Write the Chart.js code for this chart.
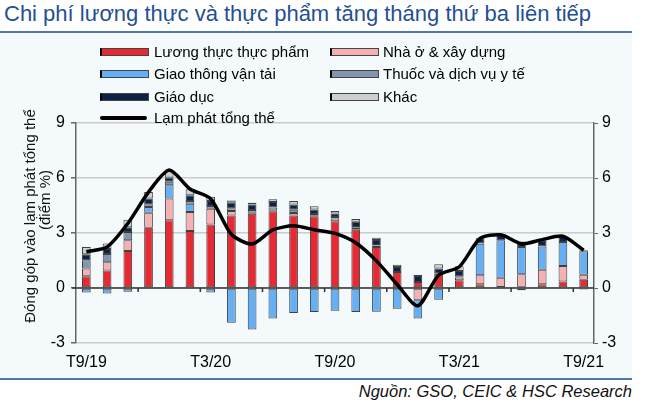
<!DOCTYPE html>
<html lang="vi">
<head>
<meta charset="utf-8">
<title>Chi phí lương thực và thực phẩm</title>
<script src="https://cdn.jsdelivr.net/npm/chart.js@4.4.1/dist/chart.umd.min.js"></script>
<style>
    html, body { margin: 0; padding: 0; background: #ffffff; }
    body { width: 652px; height: 413px; position: relative; overflow: hidden; font-family: "Liberation Sans", Arial, sans-serif; }
    .tieuDe { position: absolute; left: 4px; top: 0px; font-size: 22px; line-height: 28px; color: #1f4f95; white-space: nowrap; }
    .khung { position: absolute; left: 0; top: 31px; width: 632px; height: 349px; background: #f4fafb; border-top: 2px solid #4f78ad; border-bottom: 2px solid #4f78ad; box-sizing: border-box; }
    .nguon { position: absolute; right: 20px; top: 382px; font-size: 16.5px; font-style: italic; color: #111; white-space: nowrap; }
    #chuGiai { position: absolute; left: 0; top: 0; z-index: 2; }
    .chuGiai { position: absolute; font-size: 15px; color: #000; white-space: nowrap; line-height: 18px; }
    .mau { position: absolute; width: 46px; height: 6px; border: 1px solid #444; border-left: 2px solid #000; }
    .duong { position: absolute; width: 47px; height: 4px; background: #000; border-radius: 2px; }
    canvas { position: absolute; left: 0; top: 0; z-index: 1; }
</style>
</head>
<body>
<div class="tieuDe">Chi phí lương thực và thực phẩm tăng tháng thứ ba liên tiếp</div>
<div class="khung"></div>
<canvas id="bieuDo" width="652" height="413"></canvas>
<div id="chuGiai"></div>
<div class="nguon">Nguồn: GSO, CEIC &amp; HSC Research</div>
<script>
const thang = ["T9/19", "T10/19", "T11/19", "T12/19", "T1/20", "T2/20", "T3/20", "T4/20", "T5/20",
    "T6/20", "T7/20", "T8/20", "T9/20", "T10/20", "T11/20", "T12/20", "T1/21", "T2/21", "T3/21",
    "T4/21", "T5/21", "T6/21", "T7/21", "T8/21", "T9/21"];

const luongThuc = [0.64, 0.96, 2.02, 3.29, 3.70, 3.11, 3.47, 3.95, 4.05, 4.18, 3.96, 3.91, 3.64,
    3.18, 2.24, 0.87, 0.33, 0.78, 0.42, 0.20, 0.05, -0.12, 0.20, 0.36, 0.45];
const nhaO = [0.42, 0.45, 0.58, 0.82, 1.18, 1.04, 0.85, 0.25, 0.05, 0.03, 0.13, 0.03, 0.15,
    0.10, 0.08, 0.00, -0.67, 0.00, 0.15, 0.49, 0.51, 0.75, 0.80, 0.84, 0.27];
const giaoThong = [-0.25, -0.30, -0.20, 0.31, 0.73, 0.45, -0.25, -1.89, -2.27, -1.67, -1.36, -1.31, -1.24,
    -1.31, -1.29, -1.13, -1.00, -0.64, 0.00, 1.73, 2.04, 1.49, 1.27, 1.31, 1.29];
const thuocYTe = [0.45, 0.45, 0.45, 0.15, 0.18, 0.15, 0.15, 0.15, 0.15, 0.18, 0.18, 0.10, 0.08,
    0.05, 0.03, 0.00, 0.00, 0.00, 0.07, 0.02, 0.00, 0.00, 0.00, 0.00, 0.03];
const giaoDuc = [0.33, 0.27, 0.27, 0.31, 0.24, 0.31, 0.27, 0.30, 0.30, 0.30, 0.29, 0.24, 0.20,
    0.28, 0.27, 0.27, 0.33, 0.29, 0.29, 0.27, 0.24, 0.20, 0.29, 0.27, -0.08];
const khac = [0.40, 0.30, 0.40, 0.36, 0.35, 0.33, 0.24, 0.12, 0.10, 0.15, 0.18, 0.18, 0.13,
    0.15, 0.12, 0.13, 0.05, 0.22, 0.25, 0.00, 0.08, 0.10, 0.05, 0.04, 0.05];
const lamPhat = [1.98, 2.24, 3.52, 5.23, 6.43, 5.40, 4.87, 2.93, 2.40, 3.17, 3.39, 3.18, 2.98,
    2.47, 1.48, 0.19, -0.97, 0.70, 1.16, 2.70, 2.90, 2.41, 2.64, 2.82, 2.06];

const mocTruc = [-3, 0, 3, 6, 9];

const nhomCot = [
    { ten: "Lương thực thực phẩm", duLieu: luongThuc, mau: "#e52a33", cot: 0, hang: 0 },
    { ten: "Nhà ở & xây dựng", duLieu: nhaO, mau: "#f5b0b4", cot: 1, hang: 0 },
    { ten: "Giao thông vận tải", duLieu: giaoThong, mau: "#66aff5", cot: 0, hang: 1 },
    { ten: "Thuốc và dịch vụ y tế", duLieu: thuocYTe, mau: "#8295ae", cot: 1, hang: 1 },
    { ten: "Giáo dục", duLieu: giaoDuc, mau: "#0b2348", cot: 0, hang: 2 },
    { ten: "Khác", duLieu: khac, mau: "#cfcfcf", cot: 1, hang: 2 }
];

document.addEventListener("DOMContentLoaded", () => {
    // chu giai hai cot, dung HTML cho de dat vi tri
    const hop = document.getElementById("chuGiai");
    const hangY = [52, 74, 96.5, 118];
    nhomCot.forEach(n => {
        const xMau = n.cot === 0 ? 100 : 330;
        const xChu = n.cot === 0 ? 154 : 383;
        const mau = document.createElement("div");
        mau.className = "mau";
        mau.style.left = xMau + "px";
        mau.style.top = (hangY[n.hang] - 4) + "px";
        mau.style.background = n.mau;
        hop.appendChild(mau);
        const chu = document.createElement("div");
        chu.className = "chuGiai";
        chu.style.left = xChu + "px";
        chu.style.top = (hangY[n.hang] - 9) + "px";
        chu.textContent = n.ten;
        hop.appendChild(chu);
    });
    const duong = document.createElement("div");
    duong.className = "duong";
    duong.style.left = "100px";
    duong.style.top = (hangY[3] - 2) + "px";
    hop.appendChild(duong);
    const chuDuong = document.createElement("div");
    chuDuong.className = "chuGiai";
    chuDuong.style.left = "154px";
    chuDuong.style.top = (hangY[3] - 9) + "px";
    chuDuong.textContent = "Lạm phát tổng thể";
    hop.appendChild(chuDuong);

    // duong 0 va vach nho moi 3 thang, tieu de truc tung
    const veThem = {
        id: "veThem",
        beforeDatasetsDraw(chart) {
            const { ctx, scales, chartArea } = chart;
            const y0 = scales.y.getPixelForValue(0);
            ctx.save();
            ctx.strokeStyle = "#333";
            ctx.lineWidth = 1.5;
            ctx.beginPath();
            ctx.moveTo(chartArea.left - 4, y0);
            ctx.lineTo(chartArea.right, y0);
            for (let i = 3; i < thang.length; i += 3) {
                const x = (scales.x.getPixelForValue(i - 1) + scales.x.getPixelForValue(i)) / 2;
                ctx.moveTo(x, y0);
                ctx.lineTo(x, y0 + 4);
            }
            ctx.stroke();
            ctx.restore();
        },
        afterDraw(chart) {
            const ctx = chart.ctx;
            ctx.save();
            ctx.fillStyle = "#111";
            ctx.font = "15px 'Liberation Sans', Arial, sans-serif";
            ctx.textAlign = "center";
            ctx.textBaseline = "middle";
            ctx.translate(31, 216);
            ctx.rotate(-Math.PI / 2);
            ctx.fillText("Đóng góp vào lạm phát tổng thể", 0, 0);
            ctx.restore();
            ctx.save();
            ctx.fillStyle = "#111";
            ctx.font = "15px 'Liberation Sans', Arial, sans-serif";
            ctx.textAlign = "center";
            ctx.textBaseline = "middle";
            ctx.translate(46, 200);
            ctx.rotate(-Math.PI / 2);
            ctx.fillText("(điểm %)", 0, 0);
            ctx.restore();
        }
    };

    const tapDuLieu = [
        {
            type: "line",
            label: "Lạm phát tổng thể",
            data: lamPhat,
            borderColor: "#000",
            borderWidth: 3.5,
            pointRadius: 0,
            tension: 0.25,
            fill: false,
            order: 0,
            yAxisID: "y"
        }
    ];
    nhomCot.forEach(n => {
        tapDuLieu.push({
            type: "bar",
            label: n.ten,
            data: n.duLieu,
            backgroundColor: n.mau,
            borderColor: "rgba(30, 30, 30, 0.85)",
            borderWidth: 1,
            borderSkipped: false,
            barPercentage: 0.42,
            categoryPercentage: 1,
            stack: "gop",
            order: 1,
            yAxisID: "y"
        });
    });

    const coChu = { family: "'Liberation Sans', Arial, sans-serif", size: 16 };

    new Chart(document.getElementById("bieuDo"), {
        data: { labels: thang, datasets: tapDuLieu },
        options: {
            responsive: false,
            animation: false,
            layout: { padding: { top: 123, left: 0, right: 0, bottom: 0 } },
            plugins: {
                legend: { display: false },
                tooltip: { enabled: false }
            },
            scales: {
                x: {
                    stacked: true,
                    grid: { display: false, drawTicks: false },
                    border: { display: false },
                    ticks: {
                        autoSkip: false,
                        maxRotation: 0,
                        padding: 10,
                        color: "#000",
                        font: coChu,
                        callback: (v, i) => (i % 6 === 0 ? thang[i] : "")
                    },
                    afterFit: s => { s.height = 70; }
                },
                y: {
                    stacked: true,
                    position: "left",
                    min: -3,
                    max: 9,
                    afterBuildTicks: s => { s.ticks = mocTruc.map(v => ({ value: v })); },
                    grid: {
                        color: "#cbcbcb",
                        lineWidth: 1.5,
                        borderDash: [6, 4],
                        tickColor: "#666",
                        tickLength: 5,
                        tickBorderDash: []
                    },
                    border: { display: true, color: "#666", width: 1.5 },
                    ticks: { padding: 6, color: "#000", font: coChu },
                    afterFit: s => { s.width = 76; }
                },
                y2: {
                    position: "right",
                    min: -3,
                    max: 9,
                    afterBuildTicks: s => { s.ticks = mocTruc.map(v => ({ value: v })); },
                    grid: {
                        drawOnChartArea: false,
                        tickColor: "#666",
                        tickLength: 4
                    },
                    border: { display: true, color: "#666", width: 1.5 },
                    ticks: { padding: 4, color: "#000", font: coChu },
                    afterFit: s => { s.width = 58; }
                }
            }
        },
        plugins: [veThem]
    });
});
</script>
</body>
</html>
